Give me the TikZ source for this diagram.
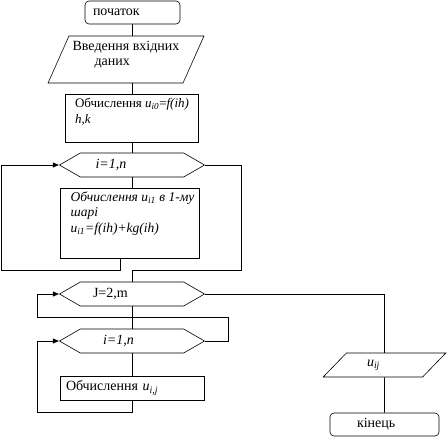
\documentclass[tikz,border=0pt]{standalone}
\usepackage{fontspec}
\setmainfont{Liberation Serif}
\usetikzlibrary{shapes.geometric,shapes.symbols,arrows.meta}

\begin{document}
\begin{tikzpicture}[x=1pt,y=-1pt,line width=0.6pt,
  every node/.style={font=\fontsize{14}{15.5}\selectfont},
  term/.style={draw,rectangle,rounded corners=4pt,minimum height=23pt,inner sep=0pt,align=left},
  io/.style={draw,trapezium,trapezium stretches=true,inner sep=0pt,align=left},
  proc/.style={draw,rectangle,inner sep=0pt,align=left},
  cyc/.style={draw,signal,signal to=west and east,signal pointer angle=60,
    minimum width=145pt,minimum height=24pt,inner sep=0pt,align=left},
  arr/.style={-{Triangle[length=6pt,width=5pt]}}]
\useasboundingbox (0,0) rectangle (447,445);

\node[term,minimum width=95pt,text width=79pt] (start) at (132.5,12.5) {початок};
\node[io,trapezium left angle=62,trapezium right angle=118,minimum width=156pt,
  minimum height=47pt,text depth=12pt] (input) at (126,59.5)
  {Введення вхідних\\\hspace*{22pt}даних};
\node[proc,minimum width=133pt,minimum height=48pt,text depth=14pt,
  font=\fontsize{13}{15.5}\selectfont] (calc0) at (132,118)
  {Обчислення \textit{u}\textsubscript{\textit{i0}}=\textit{f(ih)}\\\textit{h,k}};
\node[cyc,text width=73pt] (hexA) at (132,165) {\textit{i=1,n}};
\node[proc,minimum width=139pt,minimum height=70pt,text depth=22pt,
  font=\fontsize{13.5}{15.5}\selectfont\itshape] (calc1) at (130,223)
  {\hspace*{5pt}Обчислення u\textsubscript{i1} в 1-му\\\hspace*{5pt}шарі\\
   \hspace*{5pt}u\textsubscript{i1}=f(ih)+kg(ih)};
\node[cyc,text width=78pt] (hexB) at (132,294) {J=2,m};
\node[cyc,text width=58pt] (hexC) at (132,341) {\textit{i=1,n}};
\node[proc,minimum width=144pt,minimum height=24pt,text width=132pt] (calc2) at (132,388)
  {Обчислення \textit{u}\textsubscript{\textit{i,j}}};
\node[io,trapezium left angle=45,trapezium right angle=135,minimum width=123pt,
  minimum height=24pt,text width=35pt] (out) at (384.5,365)
  {\textit{u}\textsubscript{\textit{ij}}};
\node[term,minimum width=109pt,text width=55pt] (stop) at (384.5,424.5) {кінець};

% main column
\draw (start.south) -- (start.south |- input.north);
\draw (start.south |- input.south) -- (start.south |- calc0.north);
\draw (calc0.south) -- (calc0.south |- hexA.north);
\draw (hexA.south) -- (hexA.south |- calc1.north);
\draw[arr] ([xshift=-10pt]calc1.south) |- (1,270) |- (hexA.west);
\draw (hexA.east) -| (241,270) -| (hexB.north);
\draw (hexB.south) -- (hexC.north);
\draw (hexC.south) -- (calc2.north);
\draw[arr] (calc2.south) |- (37,412) |- (hexC.west);
\draw[arr] (hexC.east) -| (228,317) -- (37,317) |- (hexB.west);
% output
\draw (hexB.east) -| (out.north);
\draw (out) -- (stop);
\end{tikzpicture}
\end{document}
